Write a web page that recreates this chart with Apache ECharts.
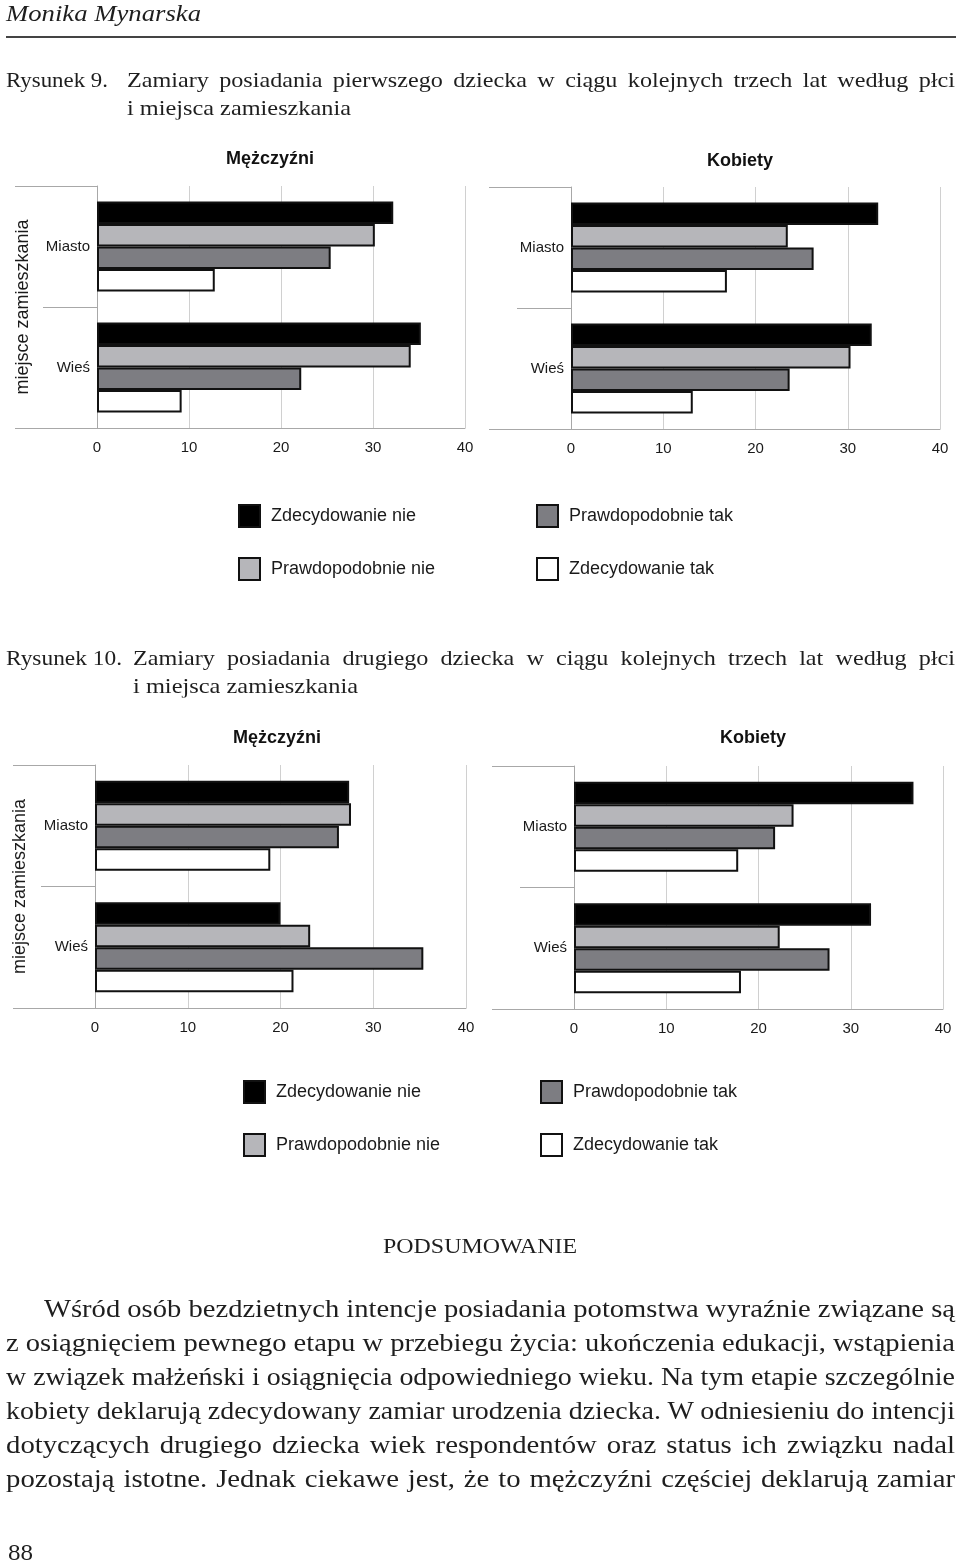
<!DOCTYPE html>
<html><head><meta charset="utf-8">
<script src="https://cdn.jsdelivr.net/npm/echarts@6/dist/echarts.min.js"></script>
<style>
html,body{margin:0;padding:0;background:#fff;}
#page{position:relative;width:960px;height:1567px;overflow:hidden;background:#fff;}
#chart{position:absolute;left:0;top:0;width:960px;height:1567px;}
.serif{position:absolute;font-family:"Liberation Serif","Times New Roman",serif;color:#1e1e1e;white-space:nowrap;line-height:1;transform-origin:0 50%;}
.ptitle{position:absolute;font-family:"Liberation Sans",Arial,sans-serif;font-weight:bold;font-size:18px;color:#111;transform:translate(-50%,-50%);white-space:nowrap;line-height:1;}
#rule{position:absolute;left:6px;top:36px;width:950px;height:2px;background:#444;}
</style></head>
<body><div id="page"><div id="chart"></div><div id="rule"></div></div>
<script>
// ---- data ----
const categories = ['Miasto', 'Wieś'];
const seriesNames = ['Zdecydowanie nie', 'Prawdopodobnie nie', 'Prawdopodobnie tak', 'Zdecydowanie tak'];
// rows: series (in seriesNames order), columns: categories
const fig9Men    = [[32.2, 35.2], [30.2, 34.1], [25.4, 22.2], [12.8, 9.2]];
const fig9Women  = [[33.3, 32.6], [23.5, 30.3], [26.3, 23.7], [16.9, 13.2]];
const fig10Men   = [[27.4, 20.0], [27.6, 23.2], [26.3, 35.4], [18.9, 21.4]];
const fig10Women = [[36.8, 32.2], [23.8, 22.3], [21.8, 27.7], [17.8, 18.1]];
const panelTitles = ['Mężczyźni', 'Kobiety', 'Mężczyźni', 'Kobiety'];
const axisName = 'miejsce zamieszkania';

// ---- style ----
const SANS = '"Liberation Sans", Arial, sans-serif';
const colors = ['#000000', '#b6b6ba', '#7d7d82', '#ffffff'];
const panels = [fig9Men, fig9Women, fig10Men, fig10Women];
const grids = [
  {left: 97, top: 186, width: 368, height: 242},
  {left: 571, top: 187, width: 369, height: 242},
  {left: 95, top: 765, width: 371, height: 243},
  {left: 574, top: 766, width: 369, height: 243}
];
const showName = [true, false, true, false];
const nameGaps = [65, 0, 66, 0];
const GRAY = '#a8a8a8';

const xAxis = [], yAxis = [], series = [];
grids.forEach((g, i) => {
  xAxis.push({
    type: 'value', gridIndex: i, min: 0, max: 40, interval: 10,
    axisLine: {show: true, lineStyle: {color: GRAY, width: 1}},
    axisTick: {show: false},
    splitLine: {show: true, lineStyle: {color: '#d0d0d0', width: 1}},
    axisLabel: {fontFamily: SANS, fontSize: 15, color: '#1a1a1a', margin: 12}
  });
  // inner category level
  yAxis.push({
    type: 'category', gridIndex: i, position: 'left', data: categories, inverse: true,
    axisLine: {show: true, lineStyle: {color: GRAY, width: 1}},
    axisTick: {show: true, length: 54, lineStyle: {color: GRAY, width: 1}},
    axisLabel: {fontFamily: SANS, fontSize: 15, color: '#1a1a1a', margin: 7}
  });
  // outer category level (axis title group)
  yAxis.push({
    type: 'category', gridIndex: i, position: 'left', data: [''],
    axisLine: {show: false},
    axisTick: {show: true, length: 82, lineStyle: {color: GRAY, width: 1}},
    axisLabel: {show: false},
    splitLine: {show: false},
    name: showName[i] ? axisName : '',
    nameLocation: 'middle', nameRotate: 90, nameGap: nameGaps[i],
    nameTextStyle: {fontFamily: SANS, fontSize: 18, color: '#1a1a1a'}
  });
  panels[i].forEach((vals, s) => {
    series.push({
      type: 'bar', name: seriesNames[s], xAxisIndex: i, yAxisIndex: 2 * i,
      data: vals, barWidth: 22.5, barGap: '0%', silent: true,
      itemStyle: {color: colors[s], borderColor: '#111', borderWidth: 2}
    });
  });
});

const legendPos = [
  [238, 504, 0], [536, 504, 2], [238, 557, 1], [536, 557, 3],
  [243, 1080, 0], [540, 1080, 2], [243, 1133, 1], [540, 1133, 3]
];
const legend = legendPos.map(p => ({
  left: p[0], top: p[1], orient: 'horizontal', selectedMode: false, padding: 0,
  icon: 'rect', itemWidth: 21, itemHeight: 22,
  data: [{name: seriesNames[p[2]], itemStyle: {color: colors[p[2]], borderColor: '#111', borderWidth: 2}}],
  textStyle: {fontFamily: SANS, fontSize: 18, color: '#1a1a1a', padding: [0, 0, 0, 6]}
}));

const chart = echarts.init(document.getElementById('chart'), null, {renderer: 'canvas'});
chart.setOption({
  animation: false,
  backgroundColor: 'transparent',
  grid: grids.map(g => Object.assign({containLabel: false}, g)),
  xAxis, yAxis, series, legend
});

// ---- panel titles ----
const titlePos = [[270, 158], [740, 160], [277, 737], [753, 737]];
const page = document.getElementById('page');
titlePos.forEach((p, i) => {
  const d = document.createElement('div');
  d.className = 'ptitle';
  d.style.left = p[0] + 'px';
  d.style.top = p[1] + 'px';
  d.textContent = panelTitles[i];
  page.appendChild(d);
});

// ---- document text (serif) ----
const textLines = [
  {t: 'Monika Mynarska', x: 6, y: 13, w: 195, fs: 23, it: true, j: false},
  {t: 'Rysunek 9.', x: 6, y: 80, w: 102, fs: 21, j: false},
  {t: 'Zamiary posiadania pierwszego dziecka w ciągu kolejnych trzech lat według płci', x: 127, y: 80, w: 828, fs: 21, j: true},
  {t: 'i miejsca zamieszkania', x: 127, y: 108, w: 224, fs: 21, j: false},
  {t: 'Rysunek 10.', x: 6, y: 658, w: 116, fs: 21, j: false},
  {t: 'Zamiary posiadania drugiego dziecka w ciągu kolejnych trzech lat według płci', x: 133, y: 658, w: 822, fs: 21, j: true},
  {t: 'i miejsca zamieszkania', x: 133, y: 686, w: 225, fs: 21, j: false},
  {t: 'PODSUMOWANIE', x: 383, y: 1246, w: 194, fs: 20, j: false},
  {t: 'Wśród osób bezdzietnych intencje posiadania potomstwa wyraźnie związane są', x: 44, y: 1308, w: 911, fs: 25, j: true},
  {t: 'z osiągnięciem pewnego etapu w przebiegu życia: ukończenia edukacji, wstąpienia', x: 6, y: 1342, w: 949, fs: 25, j: true},
  {t: 'w związek małżeński i osiągnięcia odpowiedniego wieku. Na tym etapie szczególnie', x: 6, y: 1376, w: 949, fs: 25, j: true},
  {t: 'kobiety deklarują zdecydowany zamiar urodzenia dziecka. W odniesieniu do intencji', x: 6, y: 1410, w: 949, fs: 25, j: true},
  {t: 'dotyczących drugiego dziecka wiek respondentów oraz status ich związku nadal', x: 6, y: 1444, w: 949, fs: 25, j: true},
  {t: 'pozostają istotne. Jednak ciekawe jest, że to mężczyźni częściej deklarują zamiar', x: 6, y: 1478, w: 949, fs: 25, j: true},
  {t: '88', x: 8, y: 1552, w: 25, fs: 24, j: false}
];
textLines.forEach(L => {
  const d = document.createElement('div');
  d.className = 'serif';
  d.textContent = L.t;
  d.style.left = L.x + 'px';
  d.style.top = L.y + 'px';
  d.style.fontSize = L.fs + 'px';
  if (L.it) d.style.fontStyle = 'italic';
  page.appendChild(d);
  const nat = d.getBoundingClientRect().width;
  let s;
  if (L.j) {
    const spaces = (L.t.match(/ /g) || []).length;
    s = 1.15;
    let ws = (L.w / s - nat) / spaces;
    if (ws < 0) { ws = 0; s = L.w / nat; }
    d.style.wordSpacing = ws + 'px';
  } else {
    s = L.w / nat;
  }
  d.style.transform = 'translateY(-50%) scaleX(' + s + ')';
});
</script></body></html>
